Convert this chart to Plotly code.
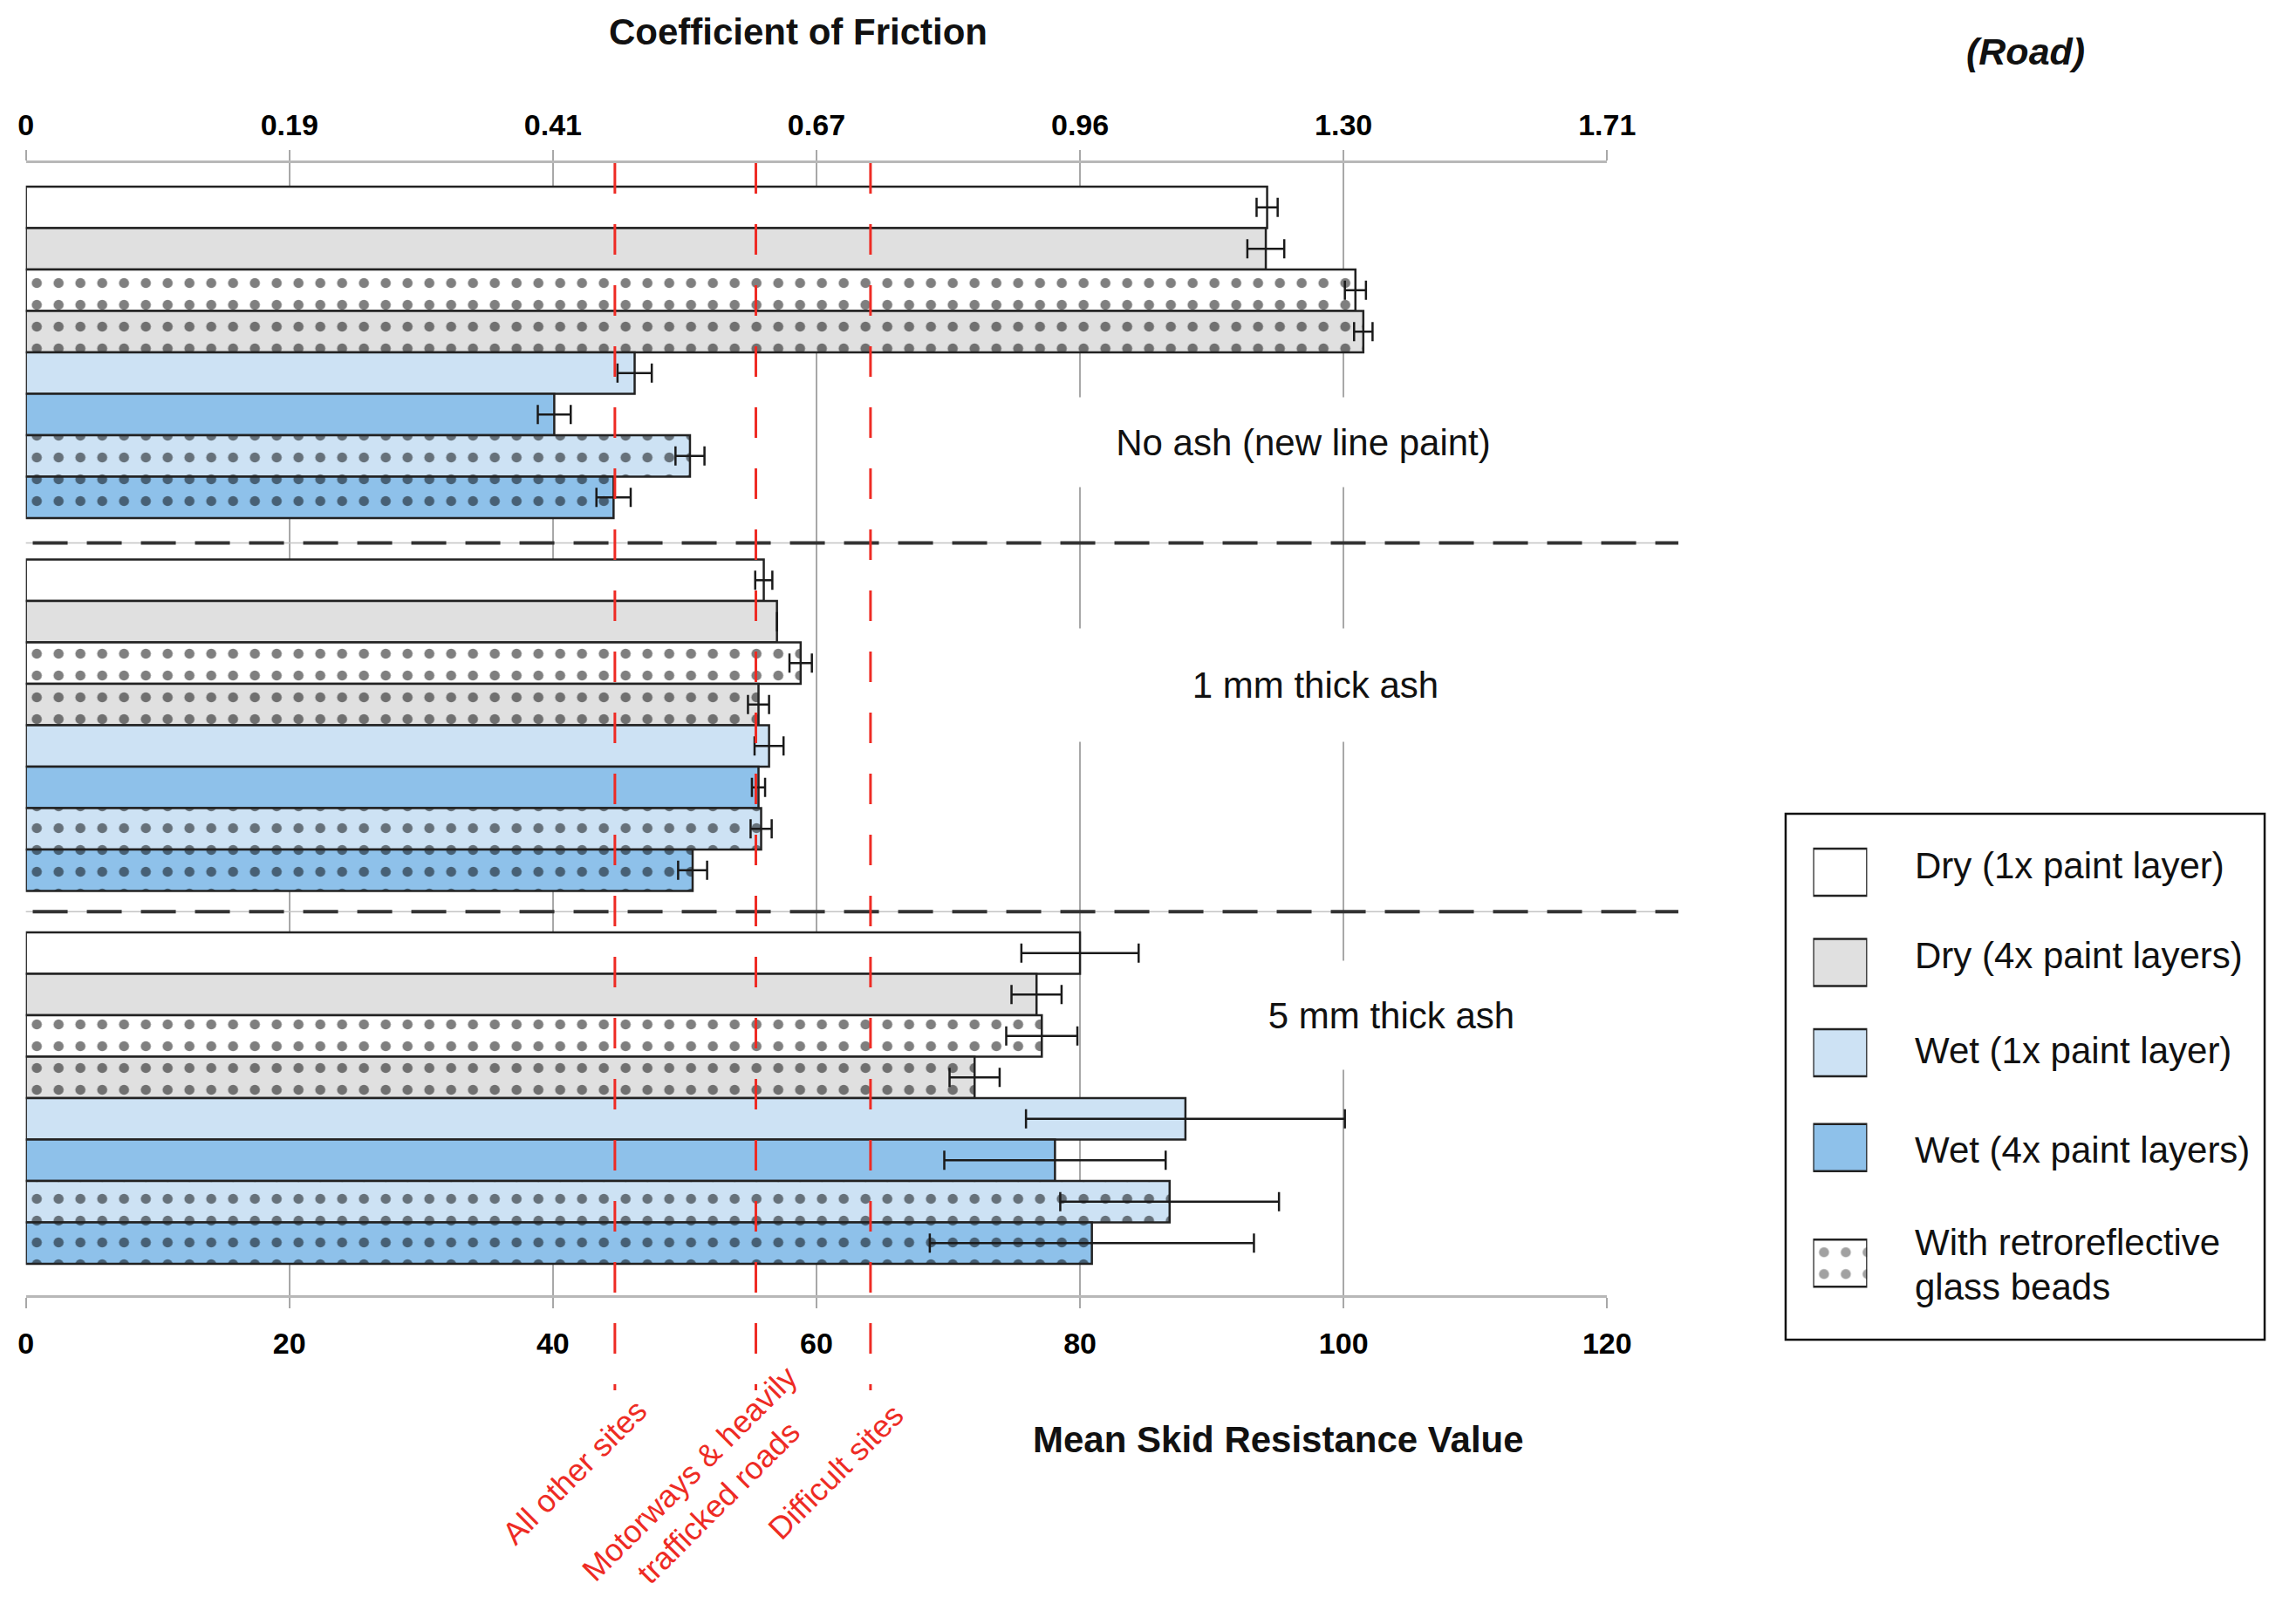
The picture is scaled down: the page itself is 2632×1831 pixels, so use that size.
import plotly.graph_objects as go

# ---------------- data ----------------
groups = ["No ash (new line paint)", "1 mm thick ash", "5 mm thick ash"]
series = [
    "Dry (1x paint layer)", "Dry (4x paint layers)",
    "Dry (1x paint layer) + glass beads", "Dry (4x paint layers) + glass beads",
    "Wet (1x paint layer)", "Wet (4x paint layers)",
    "Wet (1x paint layer) + glass beads", "Wet (4x paint layers) + glass beads",
]
msrv_no_ash = [94.2, 94.1, 100.9, 101.5, 46.2, 40.1, 50.4, 44.6]
err_no_ash = [0.8, 1.4, 0.8, 0.7, 1.3, 1.25, 1.1, 1.3]
msrv_1mm = [56.0, 57.0, 58.8, 55.6, 56.4, 55.6, 55.8, 50.6]
err_1mm = [0.65, 0.0, 0.85, 0.8, 1.1, 0.5, 0.8, 1.1]
msrv_5mm = [80.0, 76.7, 77.1, 72.0, 88.0, 78.1, 86.8, 80.9]
err_5mm = [4.45, 1.9, 2.7, 1.9, 12.1, 8.4, 8.3, 12.3]

srv_ticks = [0, 20, 40, 60, 80, 100, 120]
cof_labels = ["0", "0.19", "0.41", "0.67", "0.96", "1.30", "1.71"]

thresholds = [44.7, 55.4, 64.1]
threshold_labels = ["All other sites", "Motorways & heavily<br>trafficked roads", "Difficult sites"]

legend_labels = ["Dry (1x paint layer)", "Dry (4x paint layers)", "Wet (1x paint layer)",
                 "Wet (4x paint layers)", "With retroreflective", "glass beads"]

# ---------------- styles ----------------
W, H = 2632, 1831
FONT = "Liberation Sans, Arial, sans-serif"
WHITE, GREY, LBLUE, BLUE = "#FFFFFF", "#E0E0E0", "#CDE2F4", "#8EC1EA"
series_colors = [WHITE, GREY, WHITE, GREY, LBLUE, BLUE, LBLUE, BLUE]
series_beads = [False, False, True, True, False, False, True, True]
legend_colors = [WHITE, GREY, LBLUE, BLUE, WHITE]
legend_beads = [False, False, False, False, True]
OUTLINE = "#222222"
GRID = "#A8A8A8"
AXLINE = "#B8B8B8"
RED = "#EE2B24"
BEADS = dict(shape=".", size=25, solidity=0.17, fgcolor="#000000", fillmode="overlay")


def px(xp):
    return xp / W


def py(yp):
    return 1 - yp / H


# plot area in pixels
X0, X1, Y0, Y1 = 21, 1863, 187, 1485
SLOTS_PER_GROUP = len(series) + 1
UNIT = 47.5  # pixel height of one bar slot
bar_top = 214
y_top = -0.5 - (bar_top - Y0) / UNIT
y_bottom = y_top + (Y1 - Y0) / UNIT

values_by_group = [msrv_no_ash, msrv_1mm, msrv_5mm]
errors_by_group = [err_no_ash, err_1mm, err_5mm]

fig = go.Figure()

for i, name in enumerate(series):
    pattern = BEADS if series_beads[i] else dict(shape="")
    fig.add_trace(go.Bar(
        name=name,
        orientation="h",
        x=[vals[i] for vals in values_by_group],
        y=[g * SLOTS_PER_GROUP + i for g in range(len(groups))],
        width=1,
        marker=dict(color=series_colors[i], line=dict(color=OUTLINE, width=2.5),
                    pattern=pattern),
        error_x=dict(type="data", symmetric=True,
                     array=[errs[i] for errs in errors_by_group],
                     color="#1A1A1A", thickness=2.5, width=11),
        xaxis="x", yaxis="y",
        showlegend=False,
        hoverinfo="x+name",
    ))

# invisible helper so that the top (coefficient of friction) axis is drawn
fig.add_trace(go.Scatter(x=[srv_ticks[0], srv_ticks[-1]], y=[y_top, y_top], xaxis="x2", yaxis="y",
                         mode="markers", marker=dict(opacity=0), showlegend=False,
                         hoverinfo="skip"))

# legend swatches (drawn as bars in a small auxiliary subplot)
leg_rows = [0, 1, 2, 3.05, 4.33]
LEG_UNIT = 103.5
leg_first = 1000
fig.add_trace(go.Bar(
    orientation="h",
    x=[1] * len(legend_colors),
    y=leg_rows,
    width=54 / LEG_UNIT,
    base=0,
    marker=dict(color=legend_colors, line=dict(color=OUTLINE, width=2.5),
                pattern=dict(shape=["." if b else "" for b in legend_beads],
                             size=BEADS["size"], solidity=BEADS["solidity"],
                             fgcolor=BEADS["fgcolor"], fillmode="overlay")),
    xaxis="x3", yaxis="y3", showlegend=False, hoverinfo="skip", cliponaxis=False,
))

leg_top_px = leg_first - 0.5 * LEG_UNIT
leg_bot_px = leg_first + 4.9 * LEG_UNIT

axis_common = dict(
    range=[srv_ticks[0], srv_ticks[-1]],
    tickmode="array",
    tickvals=srv_ticks,
    ticks="outside", ticklen=12, tickwidth=2, tickcolor=GRID,
    showline=True, linecolor=AXLINE, linewidth=3,
    zeroline=False,
    tickfont=dict(family=FONT, size=34, color="black", weight="bold"),
)

fig.update_layout(
    width=W, height=H,
    margin=dict(l=0, r=0, t=0, b=0),
    paper_bgcolor="white", plot_bgcolor="white",
    barmode="overlay",
    showlegend=False,
    xaxis=dict(domain=[px(X0), px(X1)], anchor="y", side="bottom",
               showgrid=True, gridcolor=GRID, gridwidth=2,
               ticklabelstandoff=11, **axis_common),
    xaxis2=dict(overlaying="x", anchor="y", side="top", showgrid=False,
                ticktext=cof_labels, ticklabelstandoff=3, **axis_common),
    yaxis=dict(domain=[py(Y1), py(Y0)], range=[y_bottom, y_top], visible=False,
               showgrid=False, zeroline=False),
    xaxis3=dict(domain=[px(2103), px(2166)], range=[0, 1], visible=False, anchor="y3"),
    yaxis3=dict(domain=[py(leg_bot_px), py(leg_top_px)], range=[4.9, -0.5],
                visible=False, anchor="x3"),
)

shapes = []
# group separators
for ysep in [SLOTS_PER_GROUP - 0.9, 2 * SLOTS_PER_GROUP - 1.0]:
    shapes.append(dict(type="line", xref="paper", yref="y", x0=px(X0), x1=px(1946),
                       y0=ysep, y1=ysep, line=dict(color="#C4C4C4", width=1.5)))
    shapes.append(dict(type="line", xref="paper", yref="y", x0=px(X0 + 8), x1=px(1946),
                       y0=ysep, y1=ysep, line=dict(color="#333333", width=4, dash="40px,22px")))
# threshold lines
for t in thresholds:
    shapes.append(dict(type="line", xref="x", yref="paper", x0=t, x1=t,
                       y0=py(Y0), y1=py(1594),
                       line=dict(color=RED, width=3, dash="35px,35px")))
# legend frame
shapes.append(dict(type="rect", xref="paper", yref="paper", x0=px(2071), x1=px(2629),
                   y0=py(1536), y1=py(933), line=dict(color="#111111", width=2.5),
                   fillcolor="rgba(0,0,0,0)"))
fig.update_layout(shapes=shapes)

ann = []
# group labels (white boxes interrupt the grid lines)
group_label_pos = [(96.95, 5.67, 620, 100), (97.9, 11.54, 620, 127), (103.6, 19.5, 460, 122)]
for label, (gx, gy, bw, bh) in zip(groups, group_label_pos):
    ann.append(dict(text=label, xref="x", yref="y", x=gx, y=gy, showarrow=False,
                    xanchor="center", yanchor="middle",
                    width=bw, height=bh, bgcolor="white", align="center", valign="middle",
                    font=dict(family=FONT, size=42, color="#111111")))
# axis titles
ann.append(dict(text="<b>Coefficient of Friction</b>", xref="paper", yref="paper",
                x=px(921), y=py(37), xanchor="center", yanchor="middle", showarrow=False,
                font=dict(family=FONT, size=42, color="#111111")))
ann.append(dict(text="<b>Mean Skid Resistance Value</b>", xref="paper", yref="paper",
                x=px(1480), y=py(1650), xanchor="center", yanchor="middle", showarrow=False,
                font=dict(family=FONT, size=42, color="#111111")))
ann.append(dict(text="<b><i>(Road)</i></b>", xref="paper", yref="paper",
                x=px(2350), y=py(59), xanchor="center", yanchor="middle", showarrow=False,
                font=dict(family=FONT, size=43, color="#111111")))
# threshold labels
for label, (lx, ly) in zip(threshold_labels, [(660, 1687), (811, 1706), (964, 1687)]):
    ann.append(dict(text=label, xref="paper", yref="paper", x=px(lx), y=py(ly),
                    xanchor="center", yanchor="middle",
                    showarrow=False, textangle=-45, align="center",
                    font=dict(family=FONT, size=36, color=RED)))
# legend labels
legend_text_rows = [0, 1, 2.05, 3.15, 4.18, 4.67]
for label, row in zip(legend_labels, legend_text_rows):
    ann.append(dict(text=label, xref="paper", yref="y3", x=px(2219), y=row,
                    xanchor="left", yanchor="middle", align="left", showarrow=False,
                    yshift=8,
                    font=dict(family=FONT, size=42, color="#111111")))
fig.update_layout(annotations=ann)

fig.write_html("out.html", config={"displayModeBar": False},
               post_script="document.body.style.margin='0';document.body.style.overflow='hidden';")
